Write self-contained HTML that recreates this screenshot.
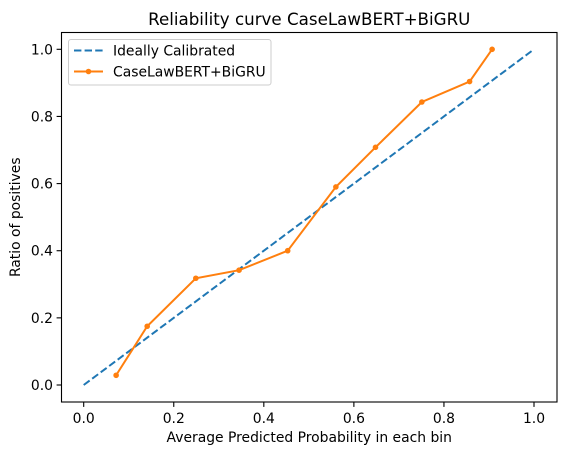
<!DOCTYPE html>
<html><head><meta charset="utf-8"><style>
html,body{margin:0;padding:0;background:#fff;}
svg{display:block;font-family:"DejaVu Sans","Liberation Sans",sans-serif;}
</style></head><body>
<svg id="chart" width="567" height="455" viewBox="0 0 567 455"></svg>
<script>
const xTicks=[0.0,0.2,0.4,0.6,0.8,1.0];
const yTicks=[0.0,0.2,0.4,0.6,0.8,1.0];
const tickLabels=["0.0","0.2","0.4","0.6","0.8","1.0"];
const idealX=[0,1];
const idealY=[0,1];
const modelX=[0.072,0.141,0.249,0.345,0.453,0.560,0.648,0.751,0.857,0.907];
const modelY=[0.029,0.175,0.318,0.342,0.400,0.590,0.708,0.843,0.904,1.0];

const svg=document.getElementById('chart');
const NS='http://www.w3.org/2000/svg';
const L=61.5,R=557,T=32.5,B=402;
const FS=13.9;
function sx(v){return 83.7+v*(534-83.7);}
function sy(v){return 385-v*(385-49.3);}
function mk(tag,attrs,parent){const e=document.createElementNS(NS,tag);for(const k in attrs)e.setAttribute(k,attrs[k]);(parent||svg).appendChild(e);return e;}

const title=mk('text',{x:(L+R)/2,y:25,'text-anchor':'middle','font-size':16.7,fill:'#000'});
title.textContent='Reliability curve CaseLawBERT+BiGRU';



const ideal=mk('polyline',{points:idealX.map((x,i)=>sx(x)+','+sy(idealY[i])).join(' '),fill:'none',stroke:'#1f77b4','stroke-width':2,'stroke-dasharray':'7.4,3.2'});



const model=mk('polyline',{points:modelX.map((x,i)=>sx(x)+','+sy(modelY[i])).join(' '),fill:'none',stroke:'#ff7f0e','stroke-width':2});


modelX.forEach((x,i)=>{
  const c=mk('circle',{cx:sx(x),cy:sy(modelY[i]),r:2.8,fill:'#ff7f0e'});
  
  
});

const frame=mk('rect',{x:L,y:T,width:R-L,height:B-T,fill:'none',stroke:'#000','stroke-width':1.1});



xTicks.forEach((v,i)=>{
  mk('line',{x1:sx(v),x2:sx(v),y1:B,y2:B+4.9,stroke:'#000','stroke-width':1.1});
  const t=mk('text',{x:sx(v),y:B+21,'text-anchor':'middle','font-size':FS,fill:'#000'});
  t.textContent=tickLabels[i];
  
  
});
yTicks.forEach((v,i)=>{
  mk('line',{x1:L-4.9,x2:L,y1:sy(v),y2:sy(v),stroke:'#000','stroke-width':1.1});
  const t=mk('text',{x:L-8.5,y:sy(v)+5,'text-anchor':'end','font-size':FS,fill:'#000'});
  t.textContent=tickLabels[i];
  
  
});

const xt=mk('text',{x:(L+R)/2,y:442,'text-anchor':'middle','font-size':FS,fill:'#000'});
xt.textContent='Average Predicted Probability in each bin';


const yt=mk('text',{x:0,y:0,'text-anchor':'middle','font-size':FS,fill:'#000',transform:'translate(20,'+((T+B)/2)+') rotate(-90)'});
yt.textContent='Ratio of positives';



const lg=mk('g',{});


mk('rect',{x:68.5,y:39.5,width:202.5,height:45.5,rx:2.5,fill:'#fff','fill-opacity':0.8,stroke:'#ccc','stroke-width':1},lg);
mk('line',{x1:74,x2:103,y1:50.5,y2:50.5,stroke:'#1f77b4','stroke-width':2,'stroke-dasharray':'7.4,3.2'},lg);
const l1=mk('text',{x:113,y:55.5,'font-size':FS,fill:'#000'},lg);
l1.textContent='Ideally Calibrated';


mk('line',{x1:74,x2:103,y1:71.5,y2:71.5,stroke:'#ff7f0e','stroke-width':2},lg);
mk('circle',{cx:88.5,cy:71.5,r:2.8,fill:'#ff7f0e'},lg);
const l2=mk('text',{x:113,y:76.5,'font-size':FS,fill:'#000'},lg);
l2.textContent='CaseLawBERT+BiGRU';


</script>
</body></html>
